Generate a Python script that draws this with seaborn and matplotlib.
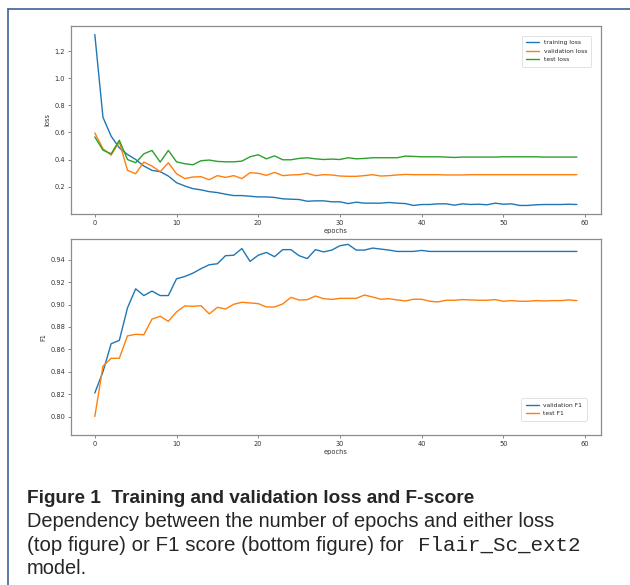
import numpy as np
import pandas as pd
import matplotlib
matplotlib.use("Agg")
import matplotlib.pyplot as plt
import seaborn as sns

# values
epochs = list(range(60))

train_loss = [1.322, 0.711, 0.572, 0.486, 0.437, 0.400, 0.352, 0.320, 0.310, 0.278,
              0.229, 0.205, 0.185, 0.176, 0.163, 0.156, 0.144, 0.134, 0.134, 0.129,
              0.124, 0.124, 0.120, 0.110, 0.107, 0.105, 0.092, 0.095, 0.095, 0.088,
              0.088, 0.075, 0.085, 0.078, 0.078, 0.078, 0.083, 0.078, 0.075, 0.061,
              0.068, 0.068, 0.073, 0.073, 0.063, 0.073, 0.068, 0.070, 0.066, 0.078,
              0.070, 0.073, 0.061, 0.061, 0.066, 0.068, 0.068, 0.068, 0.070, 0.068]
val_loss = [0.596, 0.479, 0.432, 0.530, 0.320, 0.295, 0.381, 0.352, 0.310, 0.376,
            0.295, 0.259, 0.271, 0.273, 0.251, 0.281, 0.268, 0.281, 0.259, 0.303,
            0.298, 0.283, 0.305, 0.281, 0.286, 0.288, 0.298, 0.281, 0.288, 0.286,
            0.278, 0.276, 0.276, 0.281, 0.288, 0.278, 0.281, 0.286, 0.290, 0.288,
            0.288, 0.288, 0.288, 0.286, 0.286, 0.286, 0.288, 0.288, 0.288, 0.288,
            0.288, 0.288, 0.288, 0.288, 0.288, 0.288, 0.288, 0.288, 0.288, 0.288]
test_loss = [0.567, 0.469, 0.442, 0.542, 0.400, 0.376, 0.442, 0.467, 0.381, 0.467,
             0.383, 0.369, 0.361, 0.391, 0.396, 0.386, 0.383, 0.383, 0.388, 0.420,
             0.435, 0.405, 0.427, 0.398, 0.398, 0.408, 0.413, 0.405, 0.400, 0.403,
             0.400, 0.413, 0.405, 0.408, 0.413, 0.413, 0.413, 0.413, 0.425, 0.423,
             0.420, 0.420, 0.420, 0.418, 0.415, 0.418, 0.418, 0.418, 0.418, 0.418,
             0.420, 0.420, 0.420, 0.420, 0.420, 0.418, 0.418, 0.418, 0.418, 0.418]

val_f1 = [0.821, 0.840, 0.865, 0.868, 0.897, 0.914, 0.908, 0.912, 0.908, 0.908,
          0.923, 0.925, 0.928, 0.932, 0.9355, 0.9364, 0.9436, 0.944, 0.950, 0.9385,
          0.944, 0.9465, 0.9427, 0.949, 0.949, 0.9436, 0.941, 0.949, 0.947, 0.9486,
          0.9525, 0.9537, 0.9486, 0.9486, 0.9504, 0.9495, 0.9486, 0.9474, 0.9474, 0.9474,
          0.9483, 0.9474, 0.9474, 0.9474, 0.9474, 0.9474, 0.9474, 0.9474, 0.9474, 0.9474,
          0.9474, 0.9474, 0.9474, 0.9474, 0.9474, 0.9474, 0.9474, 0.9474, 0.9474, 0.9474]
test_f1 = [0.800, 0.845, 0.852, 0.852, 0.872, 0.8734, 0.873, 0.887, 0.8895, 0.885,
           0.8934, 0.8987, 0.8984, 0.899, 0.8916, 0.8975, 0.896, 0.9002, 0.902, 0.9014,
           0.9008, 0.8978, 0.8978, 0.9005, 0.9064, 0.904, 0.9043, 0.9076, 0.9052, 0.9046,
           0.9055, 0.9055, 0.9055, 0.9085, 0.9067, 0.9047, 0.9052, 0.9041, 0.9032, 0.9047,
           0.9047, 0.9029, 0.9023, 0.9038, 0.9038, 0.9044, 0.9041, 0.9038, 0.9038, 0.9044,
           0.9029, 0.9035, 0.9029, 0.9029, 0.9035, 0.9032, 0.9035, 0.9035, 0.9041, 0.9035]

loss_labels = ["training loss", "validation loss", "test loss"]
f1_labels = ["validation F1", "test F1"]
colors = ["#1f77b4", "#ff7f0e", "#2ca02c"]

sns.set_style("ticks")
plt.rcParams["font.family"] = ["DejaVu Sans"]

fig = plt.figure(figsize=(6.3, 5.85), dpi=100)
W, H = 630, 585

def box(l, t, r, b):
    return [l / W, 1 - b / H, (r - l) / W, (b - t) / H]

ax1 = fig.add_axes(box(70.7, 26, 601, 214))
ax2 = fig.add_axes(box(70.7, 239, 601, 435))

for vals, lab, c in zip([train_loss, val_loss, test_loss], loss_labels, colors):
    sns.lineplot(x=epochs, y=vals, ax=ax1, label=lab, color=c, linewidth=1.0)
for vals, lab, c in zip([val_f1, test_f1], f1_labels, colors):
    sns.lineplot(x=epochs, y=vals, ax=ax2, label=lab, color=c, linewidth=1.0)

ax1.set_yticks([0.2, 0.4, 0.6, 0.8, 1.0, 1.2])
ax2.set_ylim(0.7835, 0.9585)
ax2.set_yticks([0.80, 0.82, 0.84, 0.86, 0.88, 0.90, 0.92, 0.94])

for ax, yl, loc, pad in [(ax1, "loss", "upper right", 1.6), (ax2, "F1", "lower right", 2.4)]:
    ax.set_xticks([0, 10, 20, 30, 40, 50, 60])
    ax.set_xlabel("epochs", fontsize=4.8, labelpad=1.5, color="#333333")
    ax.set_ylabel(yl, fontsize=4.8, labelpad=3, color="#333333")
    ax.tick_params(labelsize=4.8, length=2, width=0.5, pad=2, colors="#555555",
                   labelcolor="#333333")
    for s in ax.spines.values():
        s.set_color("#8c8c8c")
        s.set_linewidth(0.9)
    leg = ax.legend(loc=loc, fontsize=4.3, frameon=True, handlelength=2.2,
                    borderpad=0.7, labelspacing=0.6, borderaxespad=pad)
    leg.get_frame().set_linewidth(0.5)
    leg.get_frame().set_edgecolor("#cccccc")

# page frame around the figure block
fig.add_artist(plt.Line2D([8 / W, 8 / W], [0, 1 - 9 / H], color="#3b6494", linewidth=1.2))
fig.add_artist(plt.Line2D([8 / W, 1], [1 - 9 / H, 1 - 9 / H], color="#3b6494", linewidth=1.2))

cap = ["Liberation Sans"]
fig.text(27 / W, 1 - 503 / H, "Figure 1  Training and validation loss and F-score",
         fontsize=13.7, fontweight="bold", family=cap, va="baseline")
fig.text(27 / W, 1 - 527 / H, "Dependency between the number of epochs and either loss",
         fontsize=14.4, family=cap, va="baseline")
fig.text(27 / W, 1 - 551 / H, "(top figure) or F1 score (bottom figure) for",
         fontsize=14.8, family=cap, va="baseline")
fig.text(418 / W, 1 - 551 / H, "Flair_Sc_ext2", fontsize=15,
         family=["Liberation Mono"], va="baseline")
fig.text(27 / W, 1 - 574 / H, "model.", fontsize=14.4, family=cap, va="baseline")

fig.savefig("out.png", dpi=100)
